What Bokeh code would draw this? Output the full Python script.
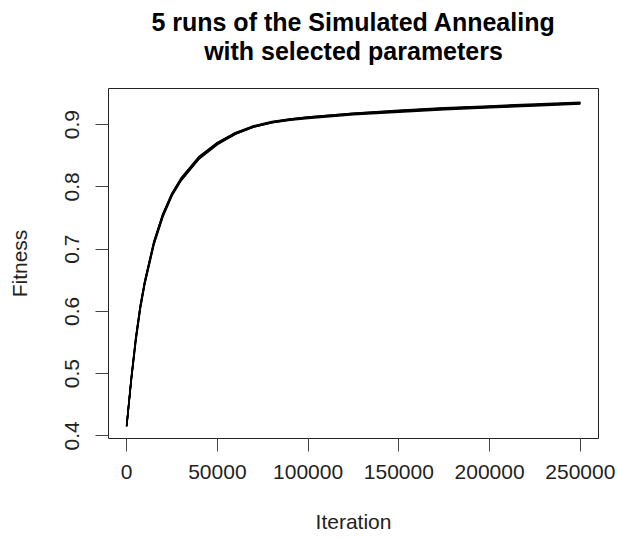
from bokeh.plotting import figure
from bokeh.models import Range1d, FixedTicker, Title
from bokeh.embed import file_html
from bokeh.resources import INLINE

iterations = [0, 2500, 5000, 7500, 10000, 15000, 20000, 25000, 30000, 40000, 50000,
              60000, 70000, 80000, 90000, 100000, 125000, 150000, 175000, 200000, 225000, 250000]
run1 = [0.416, 0.490, 0.555, 0.607, 0.647, 0.710, 0.755, 0.788, 0.812, 0.847, 0.870,
        0.886, 0.897, 0.904, 0.908, 0.911, 0.917, 0.922, 0.926, 0.929, 0.932, 0.935]
run2 = [0.415, 0.487, 0.551, 0.603, 0.644, 0.707, 0.752, 0.786, 0.810, 0.845, 0.868,
        0.885, 0.896, 0.903, 0.907, 0.910, 0.916, 0.920, 0.924, 0.927, 0.930, 0.933]
run3 = [0.417, 0.492, 0.557, 0.609, 0.649, 0.712, 0.757, 0.790, 0.814, 0.849, 0.871,
        0.887, 0.898, 0.905, 0.909, 0.912, 0.918, 0.923, 0.927, 0.930, 0.933, 0.936]
run4 = [0.416, 0.489, 0.553, 0.605, 0.645, 0.708, 0.754, 0.787, 0.811, 0.846, 0.869,
        0.885, 0.896, 0.903, 0.908, 0.911, 0.917, 0.921, 0.925, 0.928, 0.931, 0.934]
run5 = [0.415, 0.491, 0.556, 0.608, 0.648, 0.711, 0.756, 0.789, 0.813, 0.848, 0.871,
        0.887, 0.897, 0.904, 0.909, 0.912, 0.918, 0.922, 0.926, 0.929, 0.932, 0.935]
runs = [run1, run2, run3, run4, run5]

x_ticks = [0, 50000, 100000, 150000, 200000, 250000]
x_tick_labels = ["0", "50000", "100000", "150000", "200000", "250000"]
y_ticks = [0.4, 0.5, 0.6, 0.7, 0.8, 0.9]
y_tick_labels = ["0.4", "0.5", "0.6", "0.7", "0.8", "0.9"]

title_line1 = "5 runs of the Simulated Annealing"
title_line2 = "with selected parameters"

FONT = "Liberation Sans"

p = figure(width=618, height=539, output_backend="svg", toolbar_location=None,
           x_range=Range1d(-10000, 260000), y_range=Range1d(0.3957, 0.958),
           min_border_left=108, min_border_right=20, min_border_top=88, min_border_bottom=101)
p.background_fill_color = "white"
p.border_fill_color = "white"
p.outline_line_color = "#222222"
p.outline_line_width = 1
p.xgrid.visible = False
p.ygrid.visible = False

for r in runs:
    p.line(iterations, r, line_color="black", line_width=1.6)

p.title = None
p.add_layout(Title(text=title_line2, align="center", text_font=FONT, text_font_size="25px",
                   text_font_style="bold", text_color="black", standoff=48), "above")
p.add_layout(Title(text=title_line1, align="center", text_font=FONT, text_font_size="25px",
                   text_font_style="bold", text_color="black", standoff=-50), "above")

for ax in (p.xaxis[0], p.yaxis[0]):
    ax.axis_line_color = None
    ax.major_tick_line_color = "#444444"
    ax.major_tick_in = 0
    ax.major_tick_out = 13
    ax.minor_tick_line_color = None
    ax.major_label_text_font = FONT
    ax.major_label_text_font_size = "21px"
    ax.major_label_text_color = "#222222"
    ax.axis_label_text_font = FONT
    ax.axis_label_text_font_size = "21px"
    ax.axis_label_text_font_style = "normal"
    ax.axis_label_text_color = "#222222"

p.xaxis.ticker = FixedTicker(ticks=x_ticks)
p.xaxis.major_label_overrides = dict(zip(x_ticks, x_tick_labels))
p.xaxis.axis_label = "Iteration"
p.xaxis.major_label_standoff = 13
p.xaxis.axis_label_standoff = 28

p.yaxis.ticker = FixedTicker(ticks=y_ticks)
p.yaxis.major_label_overrides = dict(zip(y_ticks, y_tick_labels))
p.yaxis.major_label_orientation = "vertical"
p.yaxis.axis_label = "Fitness"
p.yaxis.major_label_standoff = 16
p.yaxis.axis_label_standoff = 32

open("out.html", "w").write(file_html(p, INLINE))
